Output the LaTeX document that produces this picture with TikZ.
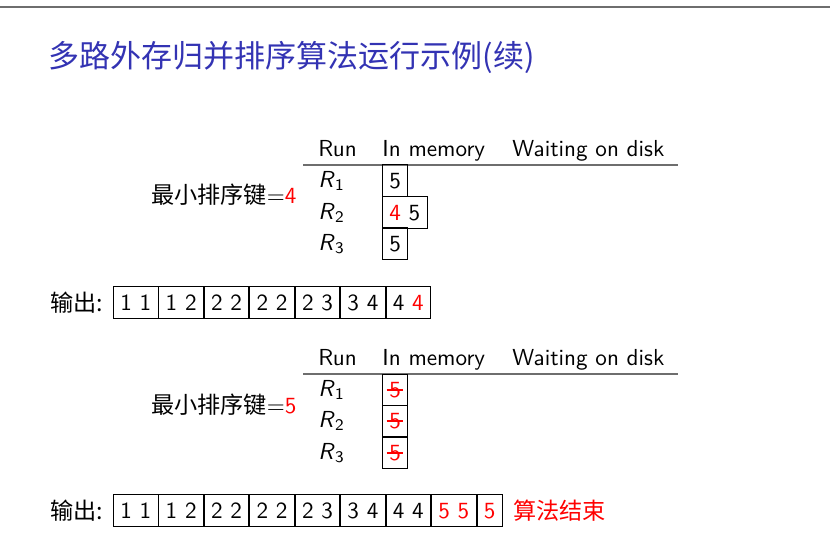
\documentclass[tikz,border=0pt]{standalone}
\usepackage{fontspec}
\newfontfamily\cjk{Noto Sans CJK SC}
\usepackage{xcolor}
\usetikzlibrary{positioning}
\definecolor{struct}{RGB}{51,51,179}
\definecolor{rulegray}{RGB}{110,110,110}

\begin{document}
\begin{tikzpicture}[x=0.432pt,y=-0.432pt,
  cell/.style={draw,inner xsep=2.95pt,inner ysep=3.6pt,text height=6.6pt,text depth=0pt,font=\sffamily},
  hd/.style={anchor=base west,inner sep=0pt,font=\sffamily},
  run/.style={anchor=west,inner sep=0pt,font=\sffamily},
  key/.style={anchor=east,inner sep=0pt},
  lbl/.style={anchor=west,inner sep=0pt,font=\cjk},
  strike/.style={red,line width=0.5pt}]
  \useasboundingbox (0,0) rectangle (830,546);
  \draw[rulegray,line width=1pt] (0,7) -- (830,7);
  \node[anchor=west,inner sep=0pt,font=\cjk\fontsize{13.4}{16}\selectfont,text=struct] (title) at (48,57) {多路外存归并排序算法运行示例(续)};

  \node[hd] (run1) at (318,157) {Run};
  \node[hd] (mem1) at (382,157) {In memory};
  \node[hd] (disk1) at (512,157) {Waiting on disk};
  \draw[rulegray,line width=0.8pt] (303,165) -- (678,165);
  \node[run] (ra1) at (318,181) {\textit{R}\textsubscript{1}};
  \node[run] (ra2) at (318,213) {\textit{R}\textsubscript{2}};
  \node[run] (ra3) at (318,244) {\textit{R}\textsubscript{3}};
  \node[cell,anchor=west] (ma1) at (382,180.5) {5};
  \node[cell,anchor=west] (ma2) at (382,212.5) {{\color{red}4} 5};
  \node[cell,anchor=west] (ma3) at (382,243.5) {5};
  \node[key] (ka) at (297,195) {{\cjk 最小排序键}$=${\sffamily\color{red}4}};

  \node[lbl] (outa) at (50,302.5) {输出:};
  \node[cell,anchor=west] (a1) at (113,302.5) {1 1};
  \node[cell,right=0pt of a1] (a2) {1 2};
  \node[cell,right=0pt of a2] (a3) {2 2};
  \node[cell,right=0pt of a3] (a4) {2 2};
  \node[cell,right=0pt of a4] (a5) {2 3};
  \node[cell,right=0pt of a5] (a6) {3 4};
  \node[cell,right=0pt of a6] (a7) {4 {\color{red}4}};

  \node[hd] (run2) at (318,366) {Run};
  \node[hd] (mem2) at (382,366) {In memory};
  \node[hd] (disk2) at (512,366) {Waiting on disk};
  \draw[rulegray,line width=0.8pt] (303,374) -- (678,374);
  \node[run] (rb1) at (318,390) {\textit{R}\textsubscript{1}};
  \node[run] (rb2) at (318,421) {\textit{R}\textsubscript{2}};
  \node[run] (rb3) at (318,453) {\textit{R}\textsubscript{3}};
  \node[cell,anchor=west,text=red] (mb1) at (382,390) {5};
  \node[cell,anchor=west,text=red] (mb2) at (382,421) {5};
  \node[cell,anchor=west,text=red] (mb3) at (382,453) {5};
  \draw[strike] ([xshift=-3.6pt]mb1.center) -- ([xshift=3.6pt]mb1.center);
  \draw[strike] ([xshift=-3.6pt]mb2.center) -- ([xshift=3.6pt]mb2.center);
  \draw[strike] ([xshift=-3.6pt]mb3.center) -- ([xshift=3.6pt]mb3.center);
  \node[key] (kb) at (297,405) {{\cjk 最小排序键}$=${\sffamily\color{red}5}};

  \node[lbl] (outb) at (50,510.5) {输出:};
  \node[cell,anchor=west] (b1) at (113,510.5) {1 1};
  \node[cell,right=0pt of b1] (b2) {1 2};
  \node[cell,right=0pt of b2] (b3) {2 2};
  \node[cell,right=0pt of b3] (b4) {2 2};
  \node[cell,right=0pt of b4] (b5) {2 3};
  \node[cell,right=0pt of b5] (b6) {3 4};
  \node[cell,right=0pt of b6] (b7) {4 4};
  \node[cell,right=0pt of b7,text=red] (b8) {5 5};
  \node[cell,right=0pt of b8,text=red] (b9) {5};
  \node[lbl,right=4.3pt of b9,text=red] (done) {算法结束};
\end{tikzpicture}
\end{document}
